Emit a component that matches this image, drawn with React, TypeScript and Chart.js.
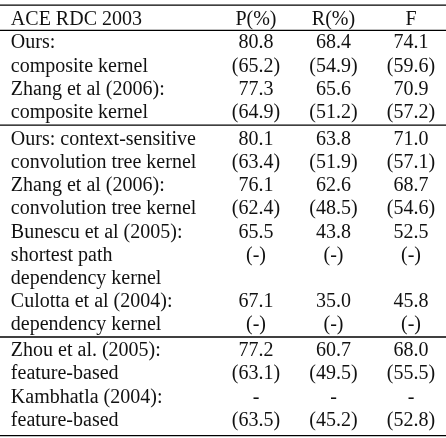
import { useEffect, useRef } from "react";
import { Chart, registerables } from "chart.js";

Chart.register(...registerables);

// ---- table content ----
const headers = ["ACE RDC 2003", "P(%)", "R(%)", "F"];

const systems = [
  "Ours:",
  "composite kernel",
  "Zhang et al (2006):",
  "composite kernel",
  "Ours: context-sensitive",
  "convolution tree kernel",
  "Zhang et al (2006):",
  "convolution tree kernel",
  "Bunescu et al (2005):",
  "shortest path",
  "dependency kernel",
  "Culotta et al (2004):",
  "dependency kernel",
  "Zhou et al. (2005):",
  "feature-based",
  "Kambhatla (2004):",
  "feature-based",
];

const precision = ["80.8", "(65.2)", "77.3", "(64.9)", "80.1", "(63.4)", "76.1", "(62.4)", "65.5", "(-)", "", "67.1", "(-)", "77.2", "(63.1)", "-", "(63.5)"];
const recall = ["68.4", "(54.9)", "65.6", "(51.2)", "63.8", "(51.9)", "62.6", "(48.5)", "43.8", "(-)", "", "35.0", "(-)", "60.7", "(49.5)", "-", "(45.2)"];
const fscore = ["74.1", "(59.6)", "70.9", "(57.2)", "71.0", "(57.1)", "68.7", "(54.6)", "52.5", "(-)", "", "45.8", "(-)", "68.0", "(55.5)", "-", "(52.8)"];

// number of rows in each horizontal block of the table
const groupSizes = [4, 9, 4];

// ---- layout (scale units) ----
const X_MIN = -2.303;
const X_MAX = 3.452;
const LABEL_X = -2.163;
const Y_MIN = -0.797;
const Y_MAX = 18.082;
const GROUP_GAPS = [0.02, 0.15, 0.116];
const FONT = "20px 'Liberation Serif', 'Times New Roman', serif";
const INK = "#111";
const BASELINE_SHIFT = 6.3;

function rowPositions(): number[] {
  const pos: number[] = [];
  let idx = 1;
  let extra = 0;
  groupSizes.forEach((n, g) => {
    extra += GROUP_GAPS[g];
    for (let k = 0; k < n; k++) {
      pos.push(idx + extra);
      idx++;
    }
  });
  return pos;
}

export default function App() {
  const ref = useRef<HTMLCanvasElement>(null);

  useEffect(() => {
    document.body.style.margin = "0";
    const canvas = ref.current;
    if (!canvas) return;

    const rows = rowPositions();
    const headerY = 0;

    // horizontal rules
    const rules: number[] = [headerY - 0.58, (headerY + rows[0]) / 2];
    let acc = 0;
    groupSizes.forEach((n, g) => {
      acc += n;
      if (g < groupSizes.length - 1) rules.push((rows[acc - 1] + rows[acc]) / 2);
    });
    rules.push(rows[rows.length - 1] + 0.69);

    const columns: { x: number; align: CanvasTextAlign; texts: string[] }[] = [
      { x: LABEL_X, align: "left", texts: [headers[0], ...systems] },
      { x: 1, align: "center", texts: [headers[1], ...precision] },
      { x: 2, align: "center", texts: [headers[2], ...recall] },
      { x: 3, align: "center", texts: [headers[3], ...fscore] },
    ];
    const ys = [headerY, ...rows];

    const datasets: any[] = [];
    columns.forEach((c) => {
      datasets.push({
        type: "scatter",
        data: ys.map((y) => ({ x: c.x, y })),
        pointRadius: 0,
        pointHoverRadius: 0,
        cellTexts: c.texts,
        cellAlign: c.align,
      });
    });
    rules.forEach((r) => {
      datasets.push({
        type: "line",
        data: [
          { x: X_MIN, y: r },
          { x: X_MAX, y: r },
        ],
        borderColor: "#000",
        borderWidth: 1.3,
        pointRadius: 0,
        fill: false,
      });
    });

    const cellText = {
      id: "cellText",
      afterDatasetsDraw(chart: any) {
        const ctx = chart.ctx as CanvasRenderingContext2D;
        ctx.save();
        ctx.font = FONT;
        ctx.fillStyle = INK;
        ctx.textBaseline = "alphabetic";
        chart.data.datasets.forEach((ds: any, di: number) => {
          if (!ds.cellTexts) return;
          ctx.textAlign = ds.cellAlign;
          const meta = chart.getDatasetMeta(di);
          meta.data.forEach((el: any, j: number) => {
            const t = ds.cellTexts[j];
            if (t) ctx.fillText(t, el.x, el.y + BASELINE_SHIFT);
          });
        });
        ctx.restore();
      },
    };

    const chart = new Chart(canvas, {
      type: "scatter",
      data: { datasets },
      options: {
        animation: false,
        responsive: false,
        maintainAspectRatio: false,
        layout: { padding: 0 },
        events: [],
        scales: {
          x: { type: "linear", display: false, min: X_MIN, max: X_MAX },
          y: { type: "linear", display: false, reverse: true, min: Y_MIN, max: Y_MAX },
        },
        plugins: { legend: { display: false }, tooltip: { enabled: false } },
      },
      plugins: [cellText],
    } as any);

    return () => chart.destroy();
  }, []);

  return (
    <div style={{ width: 446, height: 438, background: "#fff" }}>
      <canvas ref={ref} width={446} height={438} style={{ display: "block" }} />
    </div>
  );
}
